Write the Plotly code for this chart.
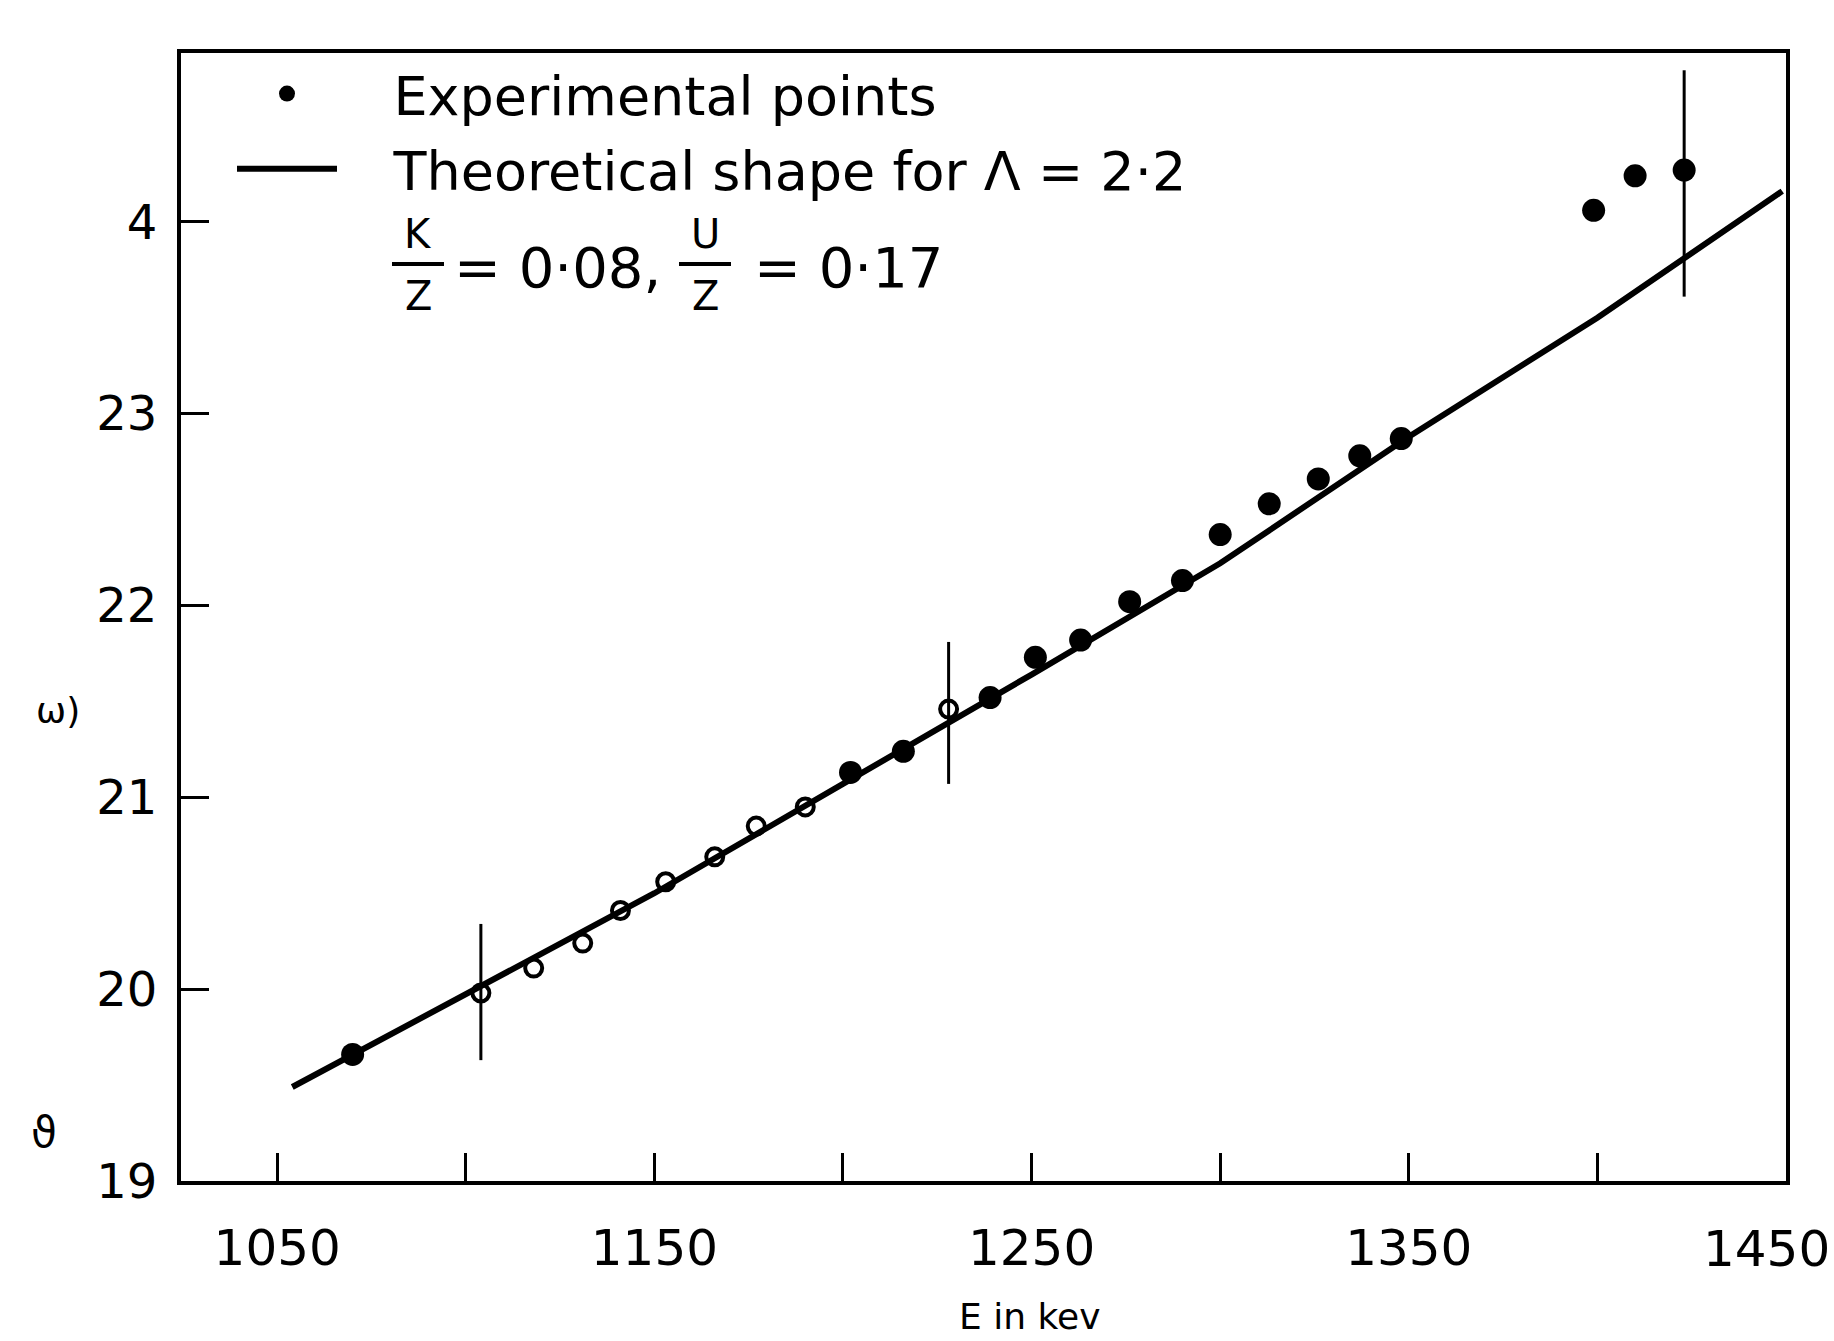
import plotly.graph_objects as go

# ---------------- data ----------------
filled_x = [1070, 1202, 1216, 1239, 1251, 1263, 1276, 1290, 1300, 1313, 1326, 1337, 1348, 1399, 1410, 1423]
filled_y = [19.66, 21.13, 21.24, 21.52, 21.73, 21.82, 22.02, 22.13, 22.37, 22.53, 22.66, 22.78, 22.87, 24.06, 24.24, 24.27]
filled_err_plus = [0, 0, 0, 0, 0, 0, 0, 0, 0, 0, 0, 0, 0, 0, 0, 0.52]
filled_err_minus = [0, 0, 0, 0, 0, 0, 0, 0, 0, 0, 0, 0, 0, 0, 0, 0.66]

open_x = [1104, 1118, 1131, 1141, 1153, 1166, 1177, 1190, 1228]
open_y = [19.98, 20.11, 20.24, 20.41, 20.56, 20.69, 20.85, 20.95, 21.46]
open_err_plus = [0.36, 0, 0, 0, 0, 0, 0, 0, 0.35]
open_err_minus = [0.35, 0, 0, 0, 0, 0, 0, 0, 0.39]

theory_x = [1054, 1100, 1150, 1200, 1250, 1300, 1350, 1400, 1449]
theory_y = [19.49, 19.97, 20.50, 21.07, 21.64, 22.22, 22.88, 23.50, 24.16]

x_tickvals = [1050, 1100, 1150, 1200, 1250, 1300, 1350, 1400, 1450]
x_ticktext = ["1050", "", "1150", "", "1250", "", "1350", "", ""]
x_last_label = "1450"
y_tickvals = [19, 20, 21, 22, 23, 24]
y_ticktext = ["19", "20", "21", "22", "23", "4"]

# ---------------- layout geometry ----------------
W, H = 1834, 1341
ML, MR, MT, MB = 181, 48, 53, 160
PW, PH = W - ML - MR, H - MT - MB
XR = [1024.5, 1450]
YR = [19, 24.88]
FONT = "DejaVu Sans"


def px(xp):
    return (xp - ML) / PW


def py(yp):
    return (H - MB - yp) / PH


fig = go.Figure()

fig.add_trace(go.Scatter(
    x=theory_x, y=theory_y, mode="lines",
    line=dict(color="black", width=6),
    name="\u00a0\u00a0\u00a0Theoretical shape for \u039b = 2\u00b72",
    legendgroup="b", legendrank=2,
))

fig.add_trace(go.Scatter(
    x=open_x, y=open_y, mode="markers",
    marker=dict(symbol="circle-open", size=17, color="black", line=dict(width=4, color="black")),
    error_y=dict(type="data", symmetric=False, array=open_err_plus, arrayminus=open_err_minus,
                 color="black", thickness=3, width=0),
    showlegend=False,
))

fig.add_trace(go.Scatter(
    x=filled_x, y=filled_y, mode="markers",
    marker=dict(symbol="circle", size=23, color="black"),
    error_y=dict(type="data", symmetric=False, array=filled_err_plus, arrayminus=filled_err_minus,
                 color="black", thickness=3, width=0),
    name="\u00a0\u00a0\u00a0Experimental points",
    legendgroup="a", legendrank=1,
))

axis_common = dict(
    showline=True, linecolor="black", linewidth=4, mirror=True,
    showgrid=False, zeroline=False,
    ticks="inside", tickcolor="black", tickwidth=3, ticklen=28,
)

fig.update_layout(
    width=W, height=H,
    margin=dict(l=ML, r=MR, t=MT, b=MB, autoexpand=False),
    paper_bgcolor="white", plot_bgcolor="white",
    font=dict(family=FONT, color="black"),
    xaxis=dict(range=XR, tickvals=x_tickvals, ticktext=x_ticktext,
               tickfont=dict(size=50, family=FONT), ticklabelstandoff=20,
               automargin=False, **axis_common),
    yaxis=dict(range=YR, tickvals=y_tickvals, ticktext=y_ticktext,
               tickfont=dict(size=48, family=FONT), ticklabelstandoff=10,
               automargin=False, **axis_common),
    legend=dict(x=px(232), y=py(52), xanchor="left", yanchor="top",
                bgcolor="rgba(0,0,0,0)", borderwidth=0,
                font=dict(size=54, family=FONT), itemwidth=100,
                traceorder="grouped", tracegroupgap=2),
    showlegend=True,
)

ann = []
# fraction parameters line
frac_font = dict(size=40, family=FONT)
line_font = dict(size=56, family=FONT)
for cx, num in [(418, "K"), (705, "U")]:
    ann.append(dict(x=px(cx), y=py(234), text=num, font=frac_font))
    ann.append(dict(x=px(cx), y=py(296), text="Z", font=frac_font))
    fig.add_shape(type="line", xref="paper", yref="paper",
                  x0=px(cx - 26), x1=px(cx + 26), y0=py(264), y1=py(264),
                  line=dict(color="black", width=4))
ann.append(dict(x=px(452), y=py(268), text="= 0\u00b708,", xanchor="left", font=line_font))
ann.append(dict(x=px(752), y=py(268), text="= 0\u00b717", xanchor="left", font=line_font))
# last x tick label, kept inside the page at the right edge
ann.append(dict(x=px(1832), y=py(1249), text=x_last_label, xanchor="right", font=dict(size=50, family=FONT)))
# axis labels (as seen on the scan)
ann.append(dict(x=px(58), y=py(711), text="\u03c9)", font=dict(size=36, family=FONT)))
ann.append(dict(x=px(44), y=py(1132), text="\u03d1", font=dict(size=42, family=FONT)))
ann.append(dict(x=px(1029), y=py(1339), text="E in kev", yanchor="bottom", font=dict(size=36, family=FONT)))

for a in ann:
    a.setdefault("xanchor", "center")
    a.setdefault("yanchor", "middle")
    a.update(xref="paper", yref="paper", showarrow=False)
fig.update_layout(annotations=ann)

fig.write_html("out.html")
